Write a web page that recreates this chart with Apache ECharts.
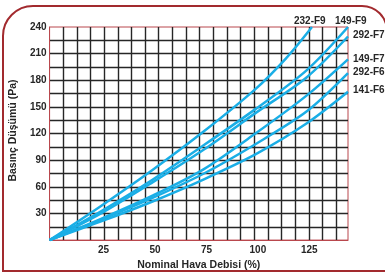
<!DOCTYPE html>
<html>
<head>
<meta charset="utf-8">
<script src="https://cdn.jsdelivr.net/npm/echarts@6/dist/echarts.min.js"></script>
<style>
html,body{margin:0;padding:0;background:#fff;}
#c{width:385px;height:276px;}
</style>
</head>
<body>
<div id="c"></div>
<script>
// Tick labels
const xTicks = [25, 50, 75, 100, 125];
const yTicks = [30, 60, 90, 120, 150, 180, 210, 240];
// Series names
const seriesNames = ['232-F9', '149-F9', '292-F7', '149-F7', '292-F6', '141-F6'];
// Series values: [nominal flow %, pressure drop Pa]
const s232F9 = [[0,0],[25,38.5],[50,79],[75,122.5],[100,170],[115,205],[127.5,240]];
const s149F9 = [[0,0],[25,32.5],[50,68],[75,107],[100,147.5],[125,191.5],[145,240]];
const s292F7 = [[0,0],[25,30],[50,65],[75,102],[100,143],[125,183.5],[145,229.3]];
const s149F7 = [[0,0],[25,24],[50,50],[75,80],[100,120],[125,163],[145,203.6]];
const s292F6 = [[0,0],[25,23],[50,47.5],[75,75],[100,108],[125,145],[145,188]];
const s141F6 = [[0,0],[25,21],[50,43.5],[75,68.5],[100,96.5],[125,131.5],[145,167]];

const seriesData = [s232F9, s149F9, s292F7, s149F7, s292F6, s141F6];
const labelOffsets = [[-18, -6], [-13, -6], [0, -1.7], [0, 0], [0, -1.3], [0, -2]];
const labelDistance = [0, 0, 5, 5, 5, 5];

const FONT = '"Liberation Sans", Arial, sans-serif';
const TXT = '#262626';
const RED = '#b9474d';
const GRID = '#262626';
const BLUE = '#1aaee6';

const chart = echarts.init(document.getElementById('c'), null, {renderer: 'canvas'});
chart.setOption({
  animation: false,
  backgroundColor: '#ffffff',
  textStyle: {fontFamily: FONT},
  graphic: [{
    type: 'rect',
    shape: {x: 3, y: 6, width: 384, height: 265, r: [30, 25, 0, 0]},
    style: {fill: 'none', stroke: '#a22a2e', lineWidth: 2},
    z: -10
  }],
  grid: {
    left: 47, top: 27, right: 37, bottom: 31.5,
    show: true, borderColor: RED, borderWidth: 1, backgroundColor: '#fff'
  },
  xAxis: [{
    type: 'value', min: 0, max: 145, interval: 25, position: 'bottom',
    axisLine: {show: true, lineStyle: {color: RED, width: 1}},
    axisTick: {show: false},
    splitLine: {show: false},
    axisLabel: {
      formatter: v => xTicks.includes(v) ? String(v) : '',
      color: TXT, fontWeight: 'bold', fontSize: 10, fontFamily: FONT,
      margin: 5, padding: [0, 0, 0, 5]
    },
    name: 'Nominal Hava Debisi (%)', nameLocation: 'middle', nameGap: 15,
    nameTextStyle: {color: TXT, fontWeight: 'bold', fontSize: 10.5, fontFamily: FONT}
  }, {
    type: 'value', min: 0, max: 21.87, interval: 1, position: 'top',
    axisLine: {show: false}, axisTick: {show: false}, axisLabel: {show: false},
    splitLine: {show: true, showMinLine: false, showMaxLine: false,
      lineStyle: {color: GRID, width: 1.4}}
  }],
  yAxis: {
    type: 'value', min: 0, max: 240, interval: 15,
    axisLine: {show: true, lineStyle: {color: RED, width: 1}},
    axisTick: {show: false},
    splitLine: {show: true, showMinLine: false, showMaxLine: false,
      lineStyle: {color: GRID, width: 1.4}},
    axisLabel: {
      formatter: v => yTicks.includes(v) ? String(v) : '',
      color: TXT, fontWeight: 'bold', fontSize: 10, fontFamily: FONT, margin: 3
    },
    name: 'Basınç Düşümü (Pa)', nameLocation: 'middle', nameGap: 27, nameRotate: 90,
    nameTextStyle: {color: TXT, fontWeight: 'bold', fontSize: 10.5, fontFamily: FONT, padding: [0, 0, 0, 6]}
  },
  series: seriesNames.map((name, i) => ({
    name: name,
    type: 'line',
    xAxisIndex: 0,
    data: seriesData[i],
    smooth: 0.3,
    showSymbol: false,
    symbol: 'none',
    lineStyle: {color: BLUE, width: 2.5},
    endLabel: {
      show: true, formatter: name, color: TXT, fontWeight: 'bold',
      fontSize: 10, fontFamily: FONT, distance: labelDistance[i], offset: labelOffsets[i]
    },
    z: 3
  }))
});
</script>
</body>
</html>
